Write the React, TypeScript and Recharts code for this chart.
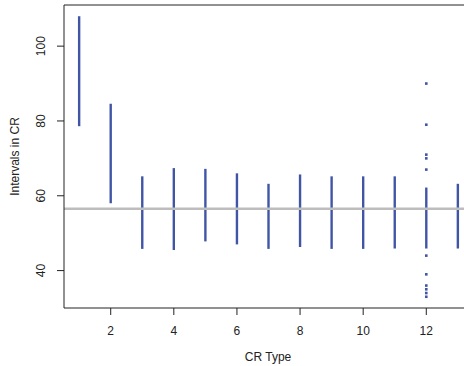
import React from "react";
import {
  ComposedChart,
  ReferenceLine,
  Scatter,
  XAxis,
  YAxis,
} from "recharts";

// CR types on the x axis, with the low/high interval range for each
const crTypes = [1, 2, 3, 4, 5, 6, 7, 8, 9, 10, 11, 12, 13];
const lows = [78.6, 58, 45.8, 45.5, 47.8, 47, 45.8, 46.3, 45.8, 45.8, 45.9, 45.9, 45.9];
const highs = [108, 84.6, 65.2, 67.4, 67.2, 66, 63.2, 65.7, 65.2, 65.2, 65.2, 62.2, 63.2];

// isolated points for CR type 12
const outlierType = 12;
const outlierValues = [90, 79, 71, 70, 67, 44, 39, 36, 35, 34, 33];

const meanInterval = 56.5;

const xTicks = [2, 4, 6, 8, 10, 12];
const yTicks = [40, 60, 80, 100];

const blue = "#4155a6";
const font = "'Liberation Sans', Arial, sans-serif";
const fs = 12;

const outliers = outlierValues.map((v) => ({ x: outlierType, y: v }));

function YTick(props: any) {
  const { x, y, payload } = props;
  const tx = x - 10;
  return (
    <text
      x={tx}
      y={y}
      transform={`rotate(-90, ${tx}, ${y})`}
      textAnchor="middle"
      fontSize={fs}
      fontFamily={font}
      fill="#222"
    >
      {payload.value}
    </text>
  );
}

function SquareDot(props: any) {
  const { cx, cy } = props;
  return <rect x={cx - 1.3} y={cy - 1.3} width={2.6} height={2.6} fill={blue} />;
}

export default function App() {
  return (
    <div
      style={{
        position: "absolute",
        left: 0,
        top: 0,
        width: 464,
        height: 366,
        overflow: "hidden",
        background: "#fff",
      }}
    >
      <ComposedChart
        width={473}
        height={366}
        margin={{ top: 5, right: 0, bottom: 0, left: 0 }}
      >
        <XAxis
          type="number"
          dataKey="x"
          domain={[0.52, 13.48]}
          ticks={xTicks}
          allowDataOverflow
          height={58}
          stroke="#222"
          tickSize={7}
          tickMargin={11}
          tick={{ fontSize: fs, fontFamily: font, fill: "#222" }}
          label={{
            content: () => (
              <text
                x={268}
                y={361}
                textAnchor="middle"
                fontSize={fs}
                fontFamily={font}
                fill="#222"
              >
                CR Type
              </text>
            ),
          }}
        />
        <YAxis
          type="number"
          dataKey="y"
          domain={[30, 111]}
          ticks={yTicks}
          allowDataOverflow
          width={64}
          stroke="#222"
          tickSize={7}
          tick={<YTick />}
          label={{
            content: () => (
              <text
                x={19}
                y={156.5}
                transform="rotate(-90, 19, 156.5)"
                textAnchor="middle"
                fontSize={fs}
                fontFamily={font}
                fill="#222"
              >
                Intervals in CR
              </text>
            ),
          }}
        />
        <ReferenceLine y={111} stroke="#222" strokeWidth={1} />
        {crTypes.map((t, i) => (
          <ReferenceLine
            key={t}
            segment={[
              { x: t, y: lows[i] },
              { x: t, y: highs[i] },
            ]}
            stroke={blue}
            strokeWidth={2.4}
          />
        ))}
        <ReferenceLine y={meanInterval} stroke="#bdbdbd" strokeWidth={2.5} />
        <Scatter
          data={outliers}
          fill={blue}
          shape={<SquareDot />}
          isAnimationActive={false}
        />
      </ComposedChart>
    </div>
  );
}
